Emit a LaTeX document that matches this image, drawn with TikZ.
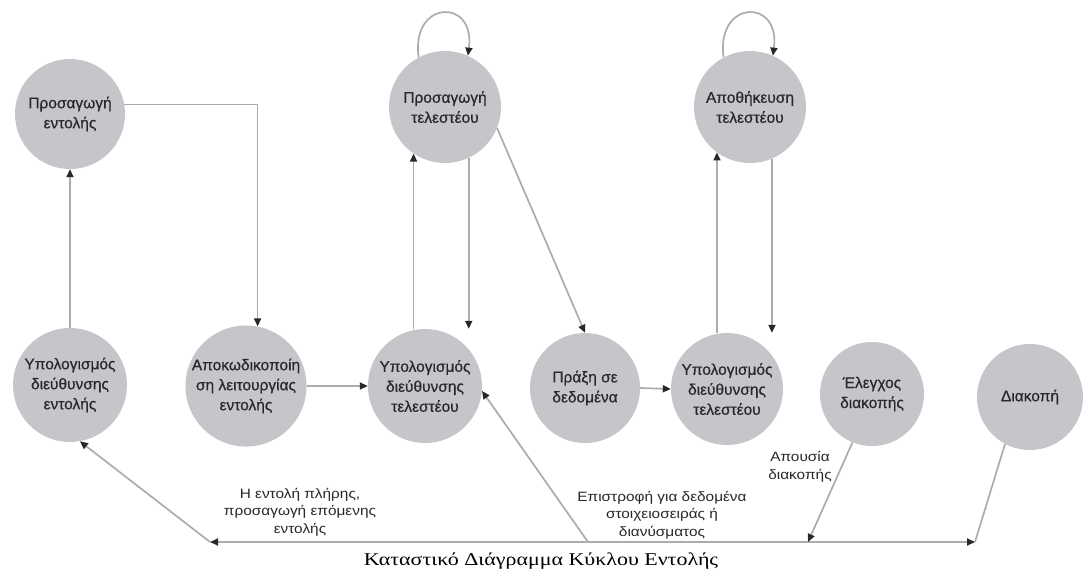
\documentclass[tikz,border=0pt]{standalone}
\usepackage{fontspec}
\setmainfont{Liberation Serif}
\setsansfont{Liberation Sans}
\newfontfamily\statefont[FakeBold=0.5]{Liberation Sans}
\newfontfamily\labelfont[FakeStretch=1.14]{Liberation Sans}
\newfontfamily\captionfont[FakeStretch=1.22]{Liberation Serif}
\usetikzlibrary{arrows.meta,calc}
\definecolor{statefill}{RGB}{197,197,202}
\definecolor{statetext}{RGB}{40,40,44}
\definecolor{wire}{RGB}{172,172,175}
\definecolor{tipcol}{RGB}{40,40,44}

\begin{document}
\begin{tikzpicture}[x=1pt,y=-1pt,
  state/.style={circle,fill=statefill,minimum size=#1,inner sep=0pt,align=center,
    font=\statefont\fontsize{15.5}{20}\selectfont,text=statetext},
  state/.default=112pt,
  wire/.style={draw=wire,line width=1.7pt},
  arr/.style={wire,-{Triangle[length=8pt,width=7pt,color=tipcol]}},
  lbl/.style={align=center,font=\labelfont\fontsize{13.5}{17.5}\selectfont,text=statetext}]

\fill[white] (0,0) rectangle (1084,574);
\useasboundingbox (0,0) rectangle (1084,574);

% states
\node[state=110pt] (fi) at (70,114) {Προσαγωγή\\εντολής};
\node[state] (fo) at (445,107) {Προσαγωγή\\τελεστέου};
\node[state] (so) at (750,107) {Αποθήκευση\\τελεστέου};
\node[state=114pt] (iac) at (70,385) {Υπολογισμός\\διεύθυνσης\\εντολής};
\node[state=114pt] (iod) at (246,386) {Αποκωδικοποίη\\ση λειτουργίας\\εντολής};
\node[state=114pt] (oac1) at (425,386) {Υπολογισμός\\διεύθυνσης\\τελεστέου};
\node[state=110pt] (do) at (585,388) {Πράξη σε\\δεδομένα};
\node[state=112pt] (oac2) at (727,389) {Υπολογισμός\\διεύθυνσης\\τελεστέου};
\node[state=104pt] (ic) at (872,394) {Έλεγχος\\διακοπής};
\node[state=106pt] (int) at (1030,397) {Διακοπή};

% transitions between states
\draw[arr] (iac.north) -- (fi.south);
\draw[arr] (fi.10) -| (iod.79);
\draw[arr] (iod.east) -- (oac1.west);
\draw[arr] (oac1.north -| fo.-124) -- (fo.-124);
\draw[arr] (fo.-65) -- (fo.-65 |- oac1.north);
\draw[arr] (fo.-22) -- (do.north);
\draw[arr] (do.east) -- (oac2.west);
\draw[arr] (oac2.north -| so.-126) -- (so.-126);
\draw[arr] (so.-67) -- (so.-67 |- oac2.north);

% self loops above the two operand states
\draw[arr] (fo.118) .. controls +(-8,-58) and +(8,-58) .. (fo.66);
\draw[arr] (so.118) .. controls +(-8,-58) and +(8,-58) .. (so.66);

% return bus along the bottom
\coordinate (jl) at (210,542);
\coordinate (jr) at (588,542);
\coordinate (jn) at (808,542);
\coordinate (je) at (975,542);
\draw[arr] (jn) -- (jl);
\draw[arr] (jn) -- (je);
\draw[arr] (jl) -- (iac.-80);
\draw[arr] (jr) -- (oac1.-5);
\draw[arr] (ic.-112) -- (jn);
\draw[wire] (je) -- (int.-118);

% labels
\node[lbl] (lnext) at (300,512) {Η εντολή πλήρης,\\προσαγωγή επόμενης\\εντολής};
\node[lbl] (lvec) at (662,515) {Επιστροφή για δεδομένα\\στοιχειοσειράς ή\\διανύσματος};
\node[lbl] (lnoint) at (800,467) {Απουσία\\διακοπής};
\node[font=\captionfont\fontsize{18}{20}\selectfont] (cap) at (541,561) {Καταστικό Διάγραμμα Κύκλου Εντολής};
\end{tikzpicture}
\end{document}
